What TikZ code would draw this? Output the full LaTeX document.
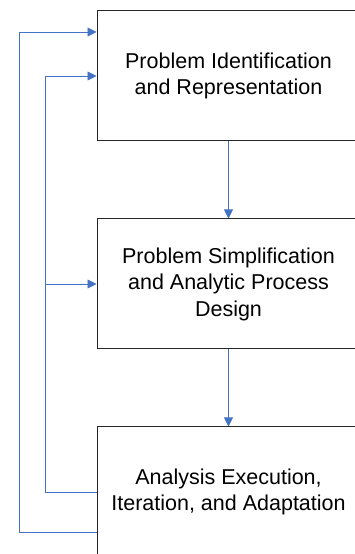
\documentclass[tikz,border=0pt]{standalone}
\usepackage{fontspec}
\setmainfont{Liberation Sans}
\usetikzlibrary{arrows.meta,calc}
\definecolor{flowblue}{RGB}{68,114,196}
\begin{document}
\begin{tikzpicture}[x=1pt, y=1pt, >={Triangle[length=9pt,width=9pt]},
		stage/.style={draw=black!85, line width=1pt, minimum width=263pt, minimum height=130pt,
			align=center, font=\fontsize{21.5}{26.5}\selectfont},
		flow/.style={->, flowblue, line width=0.9pt}]
				\clip (0,0) rectangle (355,554);
				
				% Stages
				\node[stage] (ident) at (228.5,478) {Problem Identification\\and Representation};
				\node[stage] (simpl) at (228.5,270) {Problem Simplification\\and Analytic Process\\Design};
				\node[stage] (exec)  at (228.5,62)  {Analysis Execution,\\Iteration, and Adaptation};
				
				% Forward arrows
				\draw[flow] (ident.south) -- (simpl.north);
				\draw[flow] (simpl.south) -- (exec.north);
				
				% Feedback loops
				\coordinate (loopin) at (45,0);
				\coordinate (loopout) at (19,0);
				\draw[flow] (exec.west) -- (exec.west -| loopin) |- (ident.west);
				\draw[flow] (simpl.west -| loopin) -- (simpl.west);
				\draw[flow] ([yshift=-40pt]exec.west) -- ([yshift=-40pt]exec.west -| loopout) |- ([yshift=44pt]ident.west);
			\end{tikzpicture}
\end{document}
